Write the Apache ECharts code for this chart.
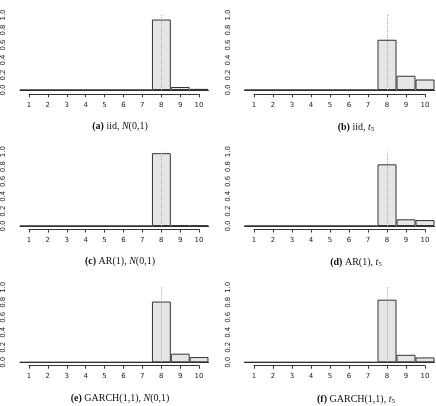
<!DOCTYPE html>
<html>
<head>
<meta charset="utf-8">
<script src="https://cdn.jsdelivr.net/npm/echarts@6/dist/echarts.min.js"></script>
<style>
  html, body { margin: 0; padding: 0; background: #fff; }
  #chart { width: 436px; height: 406px; }
</style>
</head>
<body>
<div id="chart"></div>
<script>
const categories = ["1", "2", "3", "4", "5", "6", "7", "8", "9", "10"];
const markedCategory = "8";

const iidNorm   = [0, 0, 0, 0, 0, 0, 0, 0.94, 0.04, 0.015];
const iidT5     = [0, 0, 0, 0, 0, 0, 0, 0.67, 0.19, 0.14];
const arNorm    = [0, 0, 0, 0, 0, 0, 0, 0.98, 0.012, 0.006];
const arT5      = [0, 0, 0, 0, 0, 0, 0, 0.83, 0.09, 0.08];
const garchNorm = [0, 0, 0, 0, 0, 0, 0, 0.81, 0.115, 0.07];
const garchT5   = [0, 0, 0, 0, 0, 0, 0, 0.835, 0.10, 0.065];

const captions = [
    "{b|(a)} iid, {i|N}(0,1)",
    "{b|(b)} iid, {i|t}{s|5}",
    "{b|(c)} AR(1), {i|N}(0,1)",
    "{b|(d)} AR(1), {i|t}{s|5}",
    "{b|(e)} GARCH(1,1), {i|N}(0,1)",
    "{b|(f)} GARCH(1,1), {i|t}{s|5}",
];
const panelData = [iidNorm, iidT5, arNorm, arT5, garchNorm, garchT5];

// layout (px)
const colLeft = [19.5, 244.5];
const colWidth = [189, 190];
const rowTop = [15, 151.7, 287.3];
const rowBase = [90, 226, 362.3];
const axisY = [94.3, 229.5, 365.7];
const captionX = [120, 356];
const captionY = [121, 256, 393];

const labelFont = { fontSize: 7, color: "#222", fontFamily: "DejaVu Sans" };

const grid = [], xAxis = [], yAxis = [], series = [], title = [];

panelData.forEach((data, k) => {
    const row = Math.floor(k / 2), col = k % 2;
    const step = colWidth[col] / categories.length;
    const gMain = grid.length;

    // main plotting area
    grid.push({
        left: colLeft[col],
        top: rowTop[row],
        width: colWidth[col],
        height: rowBase[row] - rowTop[row],
    });
    xAxis.push({
        type: "category",
        gridIndex: gMain,
        data: categories,
        boundaryGap: true,
        axisLine: { show: true, lineStyle: { color: "#333", width: 1 } },
        axisTick: { show: false },
        axisLabel: { show: false },
    });
    yAxis.push({
        type: "value",
        gridIndex: gMain,
        min: 0,
        max: 1,
        interval: 0.2,
        axisLine: { show: false },
        axisTick: { show: false },
        splitLine: { show: false },
        axisLabel: {
            ...labelFont,
            rotate: 90,
            margin: 13,
            formatter: v => v.toFixed(1),
        },
    });
    series.push({
        type: "bar",
        xAxisIndex: gMain,
        yAxisIndex: gMain,
        data: data,
        barWidth: "100%",
        barCategoryGap: 0,
        itemStyle: { color: "#e6e6e6", borderColor: "#333", borderWidth: 1 },
        emphasis: { disabled: true },
        silent: true,
        animation: false,
        markLine: {
            silent: true,
            symbol: "none",
            label: { show: false },
            lineStyle: { color: "#aaa", type: "dotted", width: 1 },
            data: [{ xAxis: markedCategory }],
        },
    });

    // R-style x axis, drawn below the bars from first to last category
    const gAxis = grid.length;
    grid.push({
        left: colLeft[col] + step / 2,
        top: axisY[row] - 1,
        width: colWidth[col] - step,
        height: 1,
    });
    xAxis.push({
        type: "value",
        gridIndex: gAxis,
        min: 1,
        max: 10,
        interval: 1,
        axisLine: { show: true, lineStyle: { color: "#333", width: 1 } },
        axisTick: { show: true, length: 3, lineStyle: { color: "#333" } },
        splitLine: { show: false },
        axisLabel: { ...labelFont, margin: 7, showMinLabel: true, showMaxLabel: true },
    });
    yAxis.push({
        type: "value",
        gridIndex: gAxis,
        show: false,
    });

    title.push({
        text: captions[k],
        left: captionX[col],
        top: captionY[row],
        padding: 0,
        textAlign: "center",
        textStyle: {
            fontFamily: "Liberation Serif",
            fontSize: 10,
            fontWeight: "normal",
            color: "#111",
            rich: {
                b: { fontFamily: "Liberation Serif", fontSize: 10, fontWeight: "bold", color: "#111" },
                i: { fontFamily: "Liberation Serif", fontSize: 10, fontStyle: "italic", color: "#111" },
                s: { fontFamily: "Liberation Serif", fontSize: 7, color: "#111", padding: [5, 0, 0, 0] },
            },
        },
    });
});

const chart = echarts.init(document.getElementById("chart"));
chart.setOption({
    animation: false,
    backgroundColor: "#fff",
    title: title,
    grid: grid,
    xAxis: xAxis,
    yAxis: yAxis,
    series: series,
});
</script>
</body>
</html>
